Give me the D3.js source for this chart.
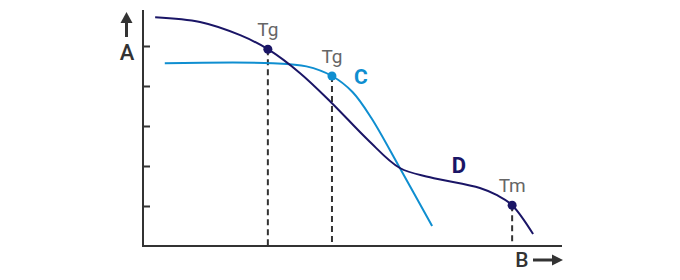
<!DOCTYPE html>
<html>
<head>
<meta charset="utf-8">
<script src="https://cdn.jsdelivr.net/npm/d3@7"></script>
<style>
  html, body { margin: 0; padding: 0; background: #fff; }
  svg { display: block; }
  text { font-family: "Roboto", "Noto Sans", sans-serif; }
</style>
</head>
<body>
<svg id="chart" width="680" height="280"></svg>
<script>
// ---- data (arbitrary units) ----
const seriesD_x = [2.9, 13.6, 23.2, 29.8, 37.5, 45.1, 53.7, 61.3, 68.5, 80.4, 84.5, 88.1, 93.1];
const seriesD_y = [5.72, 5.6, 5.27, 4.92, 4.32, 3.57, 2.65, 1.95, 1.72, 1.45, 1.27, 1.02, 0.3];
const seriesC_x = [5.2, 31.0, 39.0, 45.1, 50.0, 54.5, 61.3, 69.0];
const seriesC_y = [4.57, 4.57, 4.49, 4.25, 3.85, 3.2, 1.95, 0.5];
const yTicks = [1, 2, 3, 4, 5];
const markers = [
  { series: "D", x: 29.8, y: 4.92, label: "Tg" },
  { series: "C", x: 45.1, y: 4.25, label: "Tg" },
  { series: "D", x: 88.1, y: 1.02, label: "Tm" }
];
const seriesNames = ["C", "D"];
const axisNames = ["A", "B"];

const colors = { D: "#1a1566", C: "#0f8ed0" };
const axisColor = "#333333";

const svg = d3.select("#chart");
const x = d3.scaleLinear().domain([0, 100]).range([143, 562]);
const y = d3.scaleLinear().domain([0, 5.9]).range([246, 10]);

// axes
const yAxis = d3.axisRight(y).tickValues(yTicks).tickSize(7).tickFormat("");
const gy = svg.append("g").attr("transform", `translate(${x(0)},0)`).call(yAxis);
gy.select(".domain").remove();
gy.selectAll(".tick line").attr("stroke", axisColor).attr("stroke-width", 2);

svg.append("line").attr("x1", x(0)).attr("x2", x(0)).attr("y1", y(5.9)).attr("y2", y(0) + 1)
  .attr("stroke", axisColor).attr("stroke-width", 2);
svg.append("line").attr("x1", x(0) - 1).attr("x2", x(100)).attr("y1", y(0)).attr("y2", y(0))
  .attr("stroke", axisColor).attr("stroke-width", 2);

// dashed drop lines
svg.selectAll("line.drop").data(markers).enter().append("line")
  .attr("class", "drop")
  .attr("x1", d => x(d.x)).attr("x2", d => x(d.x))
  .attr("y1", d => y(d.y)).attr("y2", y(0))
  .attr("stroke", axisColor).attr("stroke-width", 2)
  .attr("stroke-dasharray", "6,4");

// curves
const line = d3.line().x(d => x(d[0])).y(d => y(d[1])).curve(d3.curveCatmullRom.alpha(0.5));
const dataC = d3.zip(seriesC_x, seriesC_y);
const dataD = d3.zip(seriesD_x, seriesD_y);
svg.append("path").datum(dataC).attr("d", line).attr("fill", "none")
  .attr("stroke", colors.C).attr("stroke-width", 2);
svg.append("path").datum(dataD).attr("d", line).attr("fill", "none")
  .attr("stroke", colors.D).attr("stroke-width", 2);

// markers
svg.selectAll("circle.pt").data(markers).enter().append("circle")
  .attr("cx", d => x(d.x)).attr("cy", d => y(d.y)).attr("r", 4.5)
  .attr("fill", d => colors[d.series]);

svg.selectAll("text.mk").data(markers).enter().append("text")
  .attr("x", d => x(d.x)).attr("y", d => y(d.y) - 13)
  .attr("text-anchor", "middle").attr("font-size", 19).attr("fill", "#666")
  .text(d => d.label);

// series labels
svg.append("text").attr("x", x(52)).attr("y", y(4.05)).attr("text-anchor", "middle")
  .attr("font-size", 21).attr("font-weight", "bold").attr("fill", colors.C).text(seriesNames[0]);
svg.append("text").attr("x", x(75.4)).attr("y", y(1.83)).attr("text-anchor", "middle")
  .attr("font-size", 22).attr("font-weight", "bold").attr("fill", colors.D).text(seriesNames[1]);

// axis names with arrows
svg.append("text").attr("x", 127).attr("y", 60).attr("text-anchor", "middle")
  .attr("font-size", 22).attr("font-weight", 500).attr("fill", axisColor).text(axisNames[0]);
svg.append("line").attr("x1", 126.5).attr("x2", 126.5).attr("y1", 37).attr("y2", 20)
  .attr("stroke", axisColor).attr("stroke-width", 3);
svg.append("path").attr("d", "M126.5,12 L132.5,23 L120.5,23 Z").attr("fill", axisColor);

svg.append("text").attr("x", 522).attr("y", 267).attr("text-anchor", "middle")
  .attr("font-size", 21).attr("font-weight", 500).attr("fill", axisColor).text(axisNames[1]);
svg.append("line").attr("x1", 533).attr("x2", 554).attr("y1", 260).attr("y2", 260)
  .attr("stroke", axisColor).attr("stroke-width", 3);
svg.append("path").attr("d", "M563,260 L552,254.5 L552,265.5 Z").attr("fill", axisColor);
</script>
</body>
</html>
